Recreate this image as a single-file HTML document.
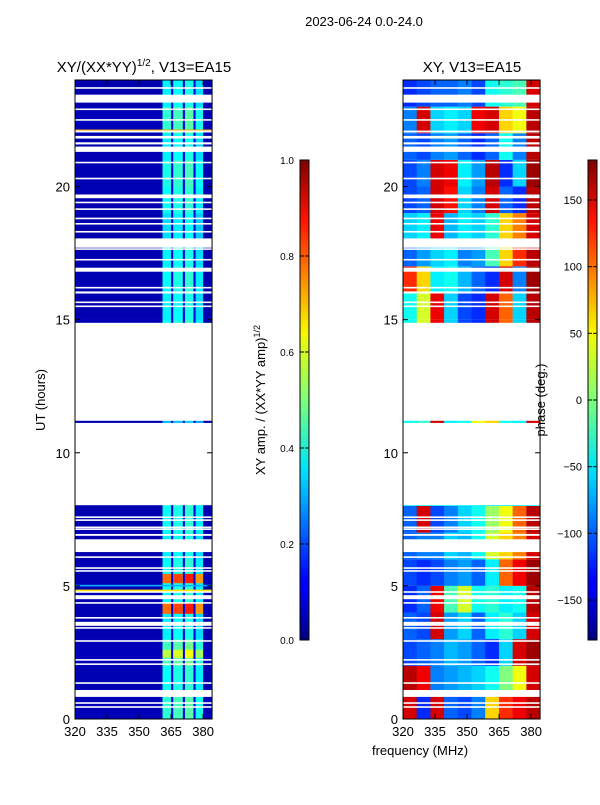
<!DOCTYPE html>
<html><head><meta charset="utf-8">
<style>
body{margin:0;background:#fff;}
svg text{font-family:"Liberation Sans",sans-serif;fill:#000;}
</style></head>
<body>
<svg id="fig" xmlns="http://www.w3.org/2000/svg" width="600" height="800" viewBox="0 0 600 800">
<rect width="600" height="800" fill="#fff"/>
<defs>
<linearGradient id="jet" x1="0" y1="1" x2="0" y2="0">
<stop offset="0" stop-color="#00007f"/><stop offset="0.11" stop-color="#0000ff"/><stop offset="0.125" stop-color="#0000ff"/>
<stop offset="0.34" stop-color="#00d4ff"/><stop offset="0.36" stop-color="#00e5f7"/><stop offset="0.5" stop-color="#7dff7a"/>
<stop offset="0.64" stop-color="#f7f900"/><stop offset="0.875" stop-color="#ff1300"/><stop offset="1" stop-color="#7f0000"/>
</linearGradient>
</defs>
<text x="364" y="26" font-size="13" text-anchor="middle">2023-06-24 0.0-24.0</text>
<text x="144" y="72" font-size="15" text-anchor="middle">XY/(XX*YY)<tspan font-size="10" dy="-6">1/2</tspan><tspan dy="6">, V13=EA15</tspan></text>
<text x="472" y="72" font-size="15" text-anchor="middle">XY, V13=EA15</text>
<g id="left"></g>
<g id="right"></g>
<g id="axes"></g>
<text transform="translate(45,400) rotate(-90)" font-size="13" text-anchor="middle">UT (hours)</text>
<text x="420" y="755" font-size="13" text-anchor="middle">frequency (MHz)</text>
<text transform="translate(265,400) rotate(-90)" font-size="13" text-anchor="middle">XY amp. / (XX*YY amp)<tspan font-size="9" dy="-5">1/2</tspan></text>
<text transform="translate(545,400) rotate(-90)" font-size="13" text-anchor="middle">phase (deg.)</text>
<rect x="300" y="160" width="9" height="480" fill="url(#jet)" stroke="#000" stroke-width="1"/>
<rect x="588" y="160" width="9" height="480" fill="url(#jet)" stroke="#000" stroke-width="1"/>
<g id="cbticks"></g>
</svg>
<script>
const NS='http://www.w3.org/2000/svg';
// ---- data ----
const yTicks=[0,5,10,15,20];
const xTicks=[320,335,350,365,380];
const ampTicks=[0.0,0.2,0.4,0.6,0.8,1.0];
const phaseTicks=[-150,-100,-50,0,50,100,150];
const ampBands=[[320,361,0.05],[361,365,0.38],[365,366,0.1],[366,370.5,0.4],[370.5,371.5,0.1],[371.5,375.5,0.42],[375.5,376.5,0.1],[376.5,380,0.36],[380,384.2,0.05]];
const ampRowScale=[1.1,1.0,1.15,0.95,1.0,1.0,0.95,1.0,1,1,1,0.8,1,1,1,0.95,1.0,0.95,0.9,1.0,1.05,0.95,1.1,0.95];
const hotRows=[[3.95,4.35,0.85],[5.1,5.45,0.85],[2.3,2.6,0.62]];
const lineRows=[[4.76,4.86,0.65],[22.06,22.14,0.7],[4.98,5.04,0.3]];
const phaseGrid=[
[150,-120,150,-100,-110,-90,60,120,140,160],
[160,140,-90,-80,-70,-60,-40,0,40,150],
[-110,-100,-90,-70,-80,-100,-120,-60,150,170],
[-100,-110,150,-80,-60,-100,-50,-30,-60,150],
[-120,-100,140,-20,30,-40,-30,-50,-40,160],
[-110,-120,-110,-90,-80,-100,-50,100,140,170],
[-100,-90,-90,-60,-70,-40,30,60,90,150],
[-100,150,-110,-90,-60,-40,10,40,100,160],
[-50,-50,-50,-50,-50,-50,-50,-50,-50,-50],
[-50,-50,-50,-50,-50,-50,-50,-50,-50,-50],
[-50,-50,-50,-50,-50,-50,-50,-50,-50,-50],
[-40,-30,150,-50,-40,40,60,-40,-50,150],
[-50,-50,-50,-50,-50,-50,-50,-50,-50,-50],
[-50,-50,-50,-50,-50,-50,-50,-50,-50,-50],
[-40,30,140,-60,-110,-120,150,100,-60,160],
[-40,30,140,-60,-110,-120,150,100,-60,160],
[120,60,-50,-40,-70,-100,-120,150,-90,170],
[-100,-80,-60,-50,-90,-80,-20,60,120,160],
[-60,-50,140,-70,-50,-60,-30,60,90,150],
[-110,-100,150,130,-60,-90,150,-100,-120,160],
[-110,-90,150,140,-50,-80,160,-120,-60,170],
[-100,-110,-90,-80,-100,-120,-100,-40,-90,160],
[-90,150,-60,-50,-60,140,150,60,40,160],
[-120,-110,-100,-100,-90,-110,-40,-30,-20,150]];
const noData=[[8.03,11.12],[11.2,14.88]];
const gaps=[[23.67,23.73],[23.15,23.45],[22.87,22.93],[22.47,22.53],[22.03,22.1],[21.8,21.9],[21.58,21.66],[21.3,21.5],[20.87,20.93],[20.27,20.33],[19.56,19.7],[19.37,19.43],[19.12,19.18],[18.77,18.83],[18.57,18.63],[18.27,18.33],[17.7,18.05],[17.62,17.68],[17.22,17.28],[16.8,16.95],[16.17,16.23],[15.98,16.06],[15.62,15.68],[15.47,15.53],
[7.55,7.61],[7.44,7.5],[7.17,7.23],[7.1,7.16],[6.88,6.95],[6.27,6.75],[6.05,6.11],[5.64,5.7],[5.53,5.59],[4.74,4.8],[4.5,4.65],[4.33,4.39],[3.77,3.83],[3.5,3.65],[3.39,3.45],[2.9,2.96],[2.19,2.25],[2.03,2.09],[1.32,1.38],[0.83,1.09],[0.57,0.63],[0.42,0.48]];
// ---- scales ----
const Y0=719,PXH=26.625,HMAX=24;
function yS(h){return Y0-h*PXH;}
function xS(f,off){return off+(f-320)*2.135;}
const LX=75,RX=403,FMAX=384.2;
function jet(v){v=Math.max(0,Math.min(1,v));const c=t=>Math.round(255*Math.max(0,Math.min(1,1.5-Math.abs(4*v-t))));return 'rgb('+c(3)+','+c(2)+','+c(1)+')';}
function rect(g,x,y,w,h,fill,name){const r=document.createElementNS(NS,'rect');
r.setAttribute('x',x);r.setAttribute('y',y);r.setAttribute('width',w);r.setAttribute('height',h);r.setAttribute('fill',fill);


g.appendChild(r);return r;}
const L=document.getElementById('left'),R=document.getElementById('right'),A=document.getElementById('axes');
ampRowScale.forEach((s,i)=>{ampBands.forEach(b=>{
 const x0=xS(b[0],LX),x1=xS(b[1],LX);
 rect(L,x0,yS(i+1),x1-x0+0.3,PXH+0.3,jet(b[2]*s),'amp-cell');});});
hotRows.forEach(hr=>{ampBands.forEach(b=>{ if(b[2]<0.2)return;
 const x0=xS(b[0],LX),x1=xS(b[1],LX);
 rect(L,x0,yS(hr[1]),x1-x0,yS(hr[0])-yS(hr[1]),jet(hr[2]*(b[2]/0.42)),'amp-hot-cell');});});
lineRows.forEach(lr=>{rect(L,LX,yS(lr[1]),xS(FMAX,LX)-LX,yS(lr[0])-yS(lr[1]),jet(lr[2]),'amp-line-row');});
const nC=10,df=(FMAX-320)/nC;
phaseGrid.forEach((row,i)=>{row.forEach((p,j)=>{
 const x0=xS(320+j*df,RX),x1=xS(320+(j+1)*df,RX);
 rect(R,x0,yS(i+1),x1-x0+0.3,PXH,jet((p+180)/360),'phase-cell');});});
[[L,LX],[R,RX]].forEach(([g,off])=>{
 noData.concat(gaps).forEach(m=>{rect(g,off,yS(m[1]),xS(FMAX,off)-off,yS(m[0])-yS(m[1]),'#fff','flag-gap');});
});
function line(g,x1,y1,x2,y2,name){const l=document.createElementNS(NS,'line');
l.setAttribute('x1',x1);l.setAttribute('y1',y1);l.setAttribute('x2',x2);l.setAttribute('y2',y2);l.setAttribute('stroke','#000');l.setAttribute('stroke-width','1');


g.appendChild(l);}
function text(g,x,y,s,size,anchor,name){const t=document.createElementNS(NS,'text');
t.setAttribute('x',x);t.setAttribute('y',y);t.setAttribute('font-size',size);t.setAttribute('text-anchor',anchor);t.textContent=s;


g.appendChild(t);}
[LX,RX].forEach(off=>{
 const x1=xS(FMAX,off),yt=yS(HMAX),yb=Y0;
 const fr=document.createElementNS(NS,'rect');
 fr.setAttribute('x',off);fr.setAttribute('y',yt);fr.setAttribute('width',x1-off);fr.setAttribute('height',yb-yt);fr.setAttribute('fill','none');fr.setAttribute('stroke','#000');
 
 
 A.appendChild(fr);
 yTicks.forEach(h=>{const y=yS(h);line(A,off,y,off+5,y,'y-tick');line(A,x1-5,y,x1,y,'y-tick');
  text(A,off-5,y+5,String(h),13,'end','y-tick-label');});
 xTicks.forEach(f=>{const x=xS(f,off);line(A,x,yb,x,yb-5,'x-tick');line(A,x,yt,x,yt+5,'x-tick');
  text(A,x,yb+17,String(f),13,'middle','x-tick-label');});
});
const C=document.getElementById('cbticks');
ampTicks.forEach(v=>{const y=640-v*480;line(C,300,y,304,y,'amp-cbar-tick');line(C,305,y,309,y,'amp-cbar-tick');
 text(C,294,y+4,v.toFixed(1),10,'end','amp-cbar-label');});
phaseTicks.forEach(v=>{const y=640-(v+180)/360*480;line(C,588,y,592,y,'phase-cbar-tick');line(C,593,y,597,y,'phase-cbar-tick');
 text(C,582,y+4,String(v).replace('-','\u2212'),11,'end','phase-cbar-label');});
</script>
</body></html>
